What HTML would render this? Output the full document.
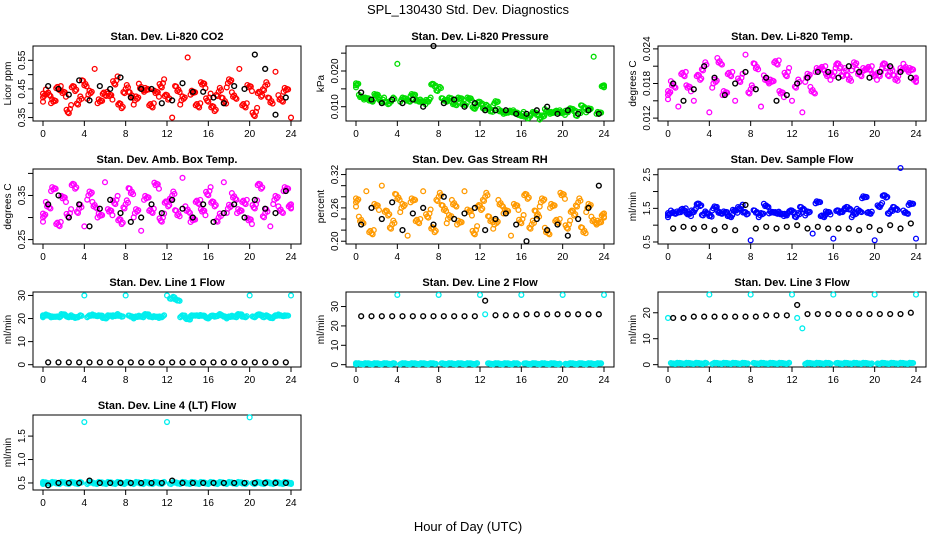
<!DOCTYPE html>
<html><head><meta charset="utf-8"><style>
body{margin:0;background:#fff}
svg{display:block;font-family:"Liberation Sans",sans-serif}
</style></head><body>
<svg id="c" width="936" height="540" viewBox="0 0 936 540">
<text x="468" y="14" text-anchor="middle" font-size="13">SPL_130430  Std. Dev. Diagnostics</text>
<text x="468" y="531" text-anchor="middle" font-size="13">Hour of Day (UTC)</text>
</svg>
<script>
const hoursHalf = Array.from({length:49},(_, i)=>i*0.5);
const hoursBlack = Array.from({length:24},(_, i)=>i+0.5);
const co2Red=[0.42,0.44,0.40,0.46,0.43,0.38,0.45,0.41,0.47,0.43,0.52,0.40,0.44,0.42,0.48,0.39,0.45,0.43,0.41,0.46,0.44,0.40,0.43,0.47,0.42,0.35,0.45,0.41,0.56,0.43,0.40,0.46,0.42,0.38,0.44,0.41,0.47,0.43,0.52,0.40,0.45,0.37,0.43,0.46,0.41,0.51,0.42,0.44,0.35];
const co2Black=[0.46,0.45,0.43,0.48,0.41,0.46,0.45,0.49,0.42,0.45,0.45,0.40,0.41,0.47,0.44,0.44,0.42,0.40,0.46,0.45,0.57,0.52,0.36,0.42];
const presGreen=[0.016,0.013,0.012,0.012,0.013,0.012,0.011,0.012,0.022,0.012,0.012,0.013,0.012,0.011,0.012,0.016,0.015,0.012,0.012,0.011,0.012,0.011,0.012,0.010,0.011,0.010,0.009,0.011,0.009,0.008,0.009,0.008,0.008,0.007,0.008,0.008,0.007,0.009,0.008,0.009,0.008,0.009,0.009,0.008,0.010,0.009,0.024,0.008,0.016];
const presBlack=[0.014,0.012,0.011,0.012,0.011,0.012,0.010,0.027,0.011,0.012,0.010,0.011,0.009,0.009,0.009,0.008,0.008,0.009,0.010,0.008,0.009,0.008,0.009,0.008];
const tempMag=[0.016,0.018,0.014,0.020,0.017,0.015,0.019,0.021,0.013,0.018,0.022,0.016,0.020,0.015,0.019,0.023,0.017,0.021,0.014,0.019,0.018,0.022,0.016,0.020,0.015,0.018,0.013,0.019,0.017,0.020,0.021,0.019,0.020,0.021,0.020,0.019,0.021,0.020,0.020,0.021,0.019,0.020,0.021,0.020,0.019,0.020,0.021,0.020,0.019];
const tempBlack=[0.018,0.015,0.017,0.021,0.019,0.016,0.018,0.020,0.017,0.019,0.015,0.016,0.018,0.019,0.020,0.020,0.019,0.021,0.020,0.019,0.020,0.021,0.020,0.019];
const boxMag=[0.30,0.33,0.36,0.29,0.34,0.31,0.37,0.32,0.28,0.35,0.33,0.30,0.38,0.31,0.34,0.29,0.33,0.36,0.31,0.27,0.34,0.32,0.37,0.30,0.33,0.35,0.31,0.39,0.32,0.29,0.34,0.31,0.36,0.33,0.30,0.38,0.32,0.35,0.31,0.34,0.29,0.33,0.37,0.31,0.28,0.34,0.32,0.36,0.33];
const boxBlack=[0.33,0.35,0.30,0.33,0.28,0.32,0.34,0.31,0.29,0.30,0.33,0.31,0.34,0.32,0.30,0.33,0.29,0.31,0.33,0.30,0.34,0.32,0.31,0.36];
const rhOrange=[0.27,0.24,0.29,0.22,0.26,0.30,0.25,0.23,0.28,0.26,0.21,0.27,0.24,0.29,0.25,0.22,0.28,0.26,0.24,0.27,0.23,0.29,0.25,0.22,0.26,0.28,0.24,0.23,0.27,0.25,0.21,0.26,0.24,0.28,0.23,0.25,0.27,0.22,0.26,0.24,0.28,0.23,0.25,0.27,0.22,0.26,0.24,0.23,0.25];
const rhBlack=[0.23,0.26,0.24,0.27,0.22,0.25,0.26,0.23,0.28,0.24,0.25,0.26,0.22,0.24,0.25,0.23,0.20,0.24,0.22,0.23,0.21,0.24,0.26,0.30];
const flowBlue=[1.3,1.4,1.35,1.5,1.3,1.45,1.6,1.35,1.3,1.5,1.4,1.35,1.3,1.4,1.55,1.35,0.55,1.4,1.3,1.6,1.35,1.4,1.3,1.35,1.4,1.3,1.5,1.35,0.75,1.65,1.3,1.35,0.6,1.4,1.45,1.5,1.3,1.45,1.8,1.4,0.55,1.6,1.85,1.4,1.5,2.7,1.4,1.6,0.6];
const flowBlack=[0.9,0.95,0.9,0.95,0.85,0.95,0.85,1.6,0.9,0.95,0.9,0.95,1.0,0.9,0.95,0.9,0.9,0.9,0.85,0.95,0.85,1.0,0.9,1.05];
const l1Cyan=[21,21.5,20.5,21,21.5,21,20.5,21,30,21,21.5,21,20.5,21,21.5,21,30,21,20.5,21,21.5,21,20.5,21,30,29,28,21,20,21,21.5,21,20.5,21,21.5,21,20.5,21,21.5,21,30,21,21.5,21,20.5,21,21.5,21,30];
const l1Black=[1,1,1,1,1,1,1,1,1,1,1,1,1,1,1,1,1,1,1,1,1,1,1,1];
const l2Cyan=[0.5,0.5,0.5,0.5,0.5,0.5,0.5,0.5,36,0.5,0.5,0.5,0.5,0.5,0.5,0.5,36,0.5,0.5,0.5,0.5,0.5,0.5,0.5,36,26,0.5,0.5,0.5,0.5,0.5,0.5,36,0.5,0.5,0.5,0.5,0.5,0.5,0.5,36,0.5,0.5,0.5,0.5,0.5,0.5,0.5,36];
const l2Black=[25,25,25,25,25,25,25,25,25,25,25,25,33,25.5,25.5,25.5,26,26,26,26,26,26,26,26];
const l3Cyan=[18,0.5,0.5,0.5,0.5,0.5,0.5,0.5,27,0.5,0.5,0.5,0.5,0.5,0.5,0.5,27,0.5,0.5,0.5,0.5,0.5,0.5,0.5,27,18,14,0.5,0.5,0.5,0.5,0.5,27,0.5,0.5,0.5,0.5,0.5,0.5,0.5,27,0.5,0.5,0.5,0.5,0.5,0.5,0.5,27];
const l3Black=[18,18,18.5,18.5,18.5,18.5,18.5,18.5,18.5,19,19,19,23,19.5,19.5,19.5,19.5,19.5,19.5,19.5,19.5,19.5,19.5,20];
const l4Cyan=[0.5,0.5,0.5,0.5,0.5,0.5,0.5,0.5,1.8,0.5,0.5,0.5,0.5,0.5,0.5,0.5,0.5,0.5,0.5,0.5,0.5,0.5,0.5,0.5,1.8,0.5,0.5,0.5,0.5,0.5,0.5,0.5,0.5,0.5,0.5,0.5,0.5,0.5,0.5,0.5,1.9,0.5,0.5,0.5,0.5,0.5,0.5,0.5,0.5];
const l4Black=[0.45,0.5,0.5,0.5,0.55,0.5,0.5,0.5,0.5,0.5,0.5,0.5,0.55,0.5,0.5,0.5,0.5,0.5,0.5,0.5,0.5,0.5,0.5,0.5];
const xTicks=[0,4,8,12,16,20,24];

const panels=[
 {t:"Stan. Dev. Li-820 CO2",yl:"Licor ppm",c:0,r:0,d:[0.338,0.60],yt:[0.35,0.40,0.45,0.50,0.55],lab:["0.35","","0.45","","0.55"],col:"#ff0000",s:co2Red,b:co2Black,sp:1.0},
 {t:"Stan. Dev. Li-820 Pressure",yl:"kPa",c:1,r:0,d:[0.006,0.027],yt:[0.010,0.015,0.020,0.025],lab:["0.010","","0.020",""],col:"#00dd00",s:presGreen,b:presBlack,sp:0.5},
 {t:"Stan. Dev. Li-820 Temp.",yl:"degrees C",c:2,r:0,d:[0.0115,0.0245],yt:[0.012,0.015,0.018,0.021,0.024],lab:["0.012","","0.018","","0.024"],col:"#ff00ff",s:tempMag,b:tempBlack,sp:1.0},
 {t:"Stan. Dev. Amb. Box Temp.",yl:"degrees C",c:0,r:1,d:[0.24,0.41],yt:[0.25,0.30,0.35,0.40],lab:["0.25","","0.35",""],col:"#ff00ff",s:boxMag,b:boxBlack,sp:1.0},
 {t:"Stan. Dev. Gas Stream RH",yl:"percent",c:1,r:1,d:[0.195,0.33],yt:[0.20,0.22,0.24,0.26,0.28,0.30,0.32],lab:["0.20","","","0.26","","","0.32"],col:"#ff9a00",s:rhOrange,b:rhBlack,sp:1.0},
 {t:"Stan. Dev. Sample Flow",yl:"ml/min",c:2,r:1,d:[0.44,2.67],yt:[0.5,1,1.5,2,2.5],lab:["0.5","","1.5","","2.5"],col:"#0000ff",s:flowBlue,b:flowBlack,sp:0.5},
 {t:"Stan. Dev. Line 1 Flow",yl:"ml/min",c:0,r:2,d:[-1,31.5],yt:[0,10,20,30],lab:["0","10","20","30"],col:"#00eeee",s:l1Cyan,b:l1Black,sp:0.25},
 {t:"Stan. Dev. Line 2 Flow",yl:"ml/min",c:1,r:2,d:[-1.2,37.5],yt:[0,10,20,30],lab:["0","10","20","30"],col:"#00eeee",s:l2Cyan,b:l2Black,sp:0.15},
 {t:"Stan. Dev. Line 3 Flow",yl:"ml/min",c:2,r:2,d:[-0.9,28],yt:[0,10,20],lab:["0","10","20"],col:"#00eeee",s:l3Cyan,b:l3Black,sp:0.15},
 {t:"Stan. Dev. Line 4 (LT) Flow",yl:"ml/min",c:0,r:3,d:[0.35,1.95],yt:[0.5,1.0,1.5],lab:["0.5","1.0","1.5"],col:"#00eeee",s:l4Cyan,b:l4Black,sp:0.25}
];
const JX=[-0.22,-0.11,0,0.11,0.22];
const JY=[-1.6,0.9,0,-0.8,1.5,-0.3,0.6,-1.2,1.1];
const NS="http://www.w3.org/2000/svg";
const svg=document.getElementById('c');
function mk(tag,attrs,parent){const e=document.createElementNS(NS,tag);for(const k in attrs)e.setAttribute(k,attrs[k]);(parent||svg).appendChild(e);return e;}
panels.forEach((p,pi)=>{
 const ox=[0,313,625][p.c], top=46+p.r*123, h=75;
 const L=33+ox,R=301+ox,B=top+h;
 const g=mk('g',{});
 
 
 const X=v=>43+ox+(v/24)*248;
 const Y=v=>B-(v-p.d[0])/(p.d[1]-p.d[0])*h;
 const rng=p.d[1]-p.d[0];
 const sorted=[...p.s].sort((a,b)=>a-b), med=sorted[Math.floor(sorted.length/2)];
 const tt=mk('text',{x:(L+R)/2,y:top-6,'text-anchor':'middle','font-size':11,'font-weight':'bold'},g);tt.textContent=p.t;
 
 
 const box=mk('rect',{x:L,y:top,width:R-L,height:h,fill:'none',stroke:'#000','stroke-width':1},g);
 
 
 xTicks.forEach(v=>{mk('line',{x1:X(v),x2:X(v),y1:B,y2:B+5,stroke:'#000'},g);
  const t=mk('text',{x:X(v),y:B+16,'text-anchor':'middle','font-size':10},g);t.textContent=v;
  
  });
 p.yt.forEach((v,i)=>{mk('line',{x1:L,x2:L-5,y1:Y(v),y2:Y(v),stroke:'#000'},g);
  if(p.lab[i]){const t=mk('text',{x:L-8,y:Y(v),'text-anchor':'middle','font-size':10,transform:`rotate(-90 ${L-8} ${Y(v)})`},g);t.textContent=p.lab[i];
  
  }});
 const yl=mk('text',{x:L-22,y:top+h/2,'text-anchor':'middle','font-size':10,transform:`rotate(-90 ${L-22} ${top+h/2})`},g);yl.textContent=p.yl;
 
 
 p.s.forEach((v,i)=>{
  const outlier=Math.abs(v-med)>0.25*rng;
  const offs=outlier?[0]:JX;
  offs.forEach((dx,k)=>{
   const xv=Math.min(24,Math.max(0,hoursHalf[i]+dx));
   const vv=outlier?v:v+JY[(i+k*2)%JY.length]*rng*0.035*p.sp;
   const c=mk('circle',{cx:X(xv),cy:Y(vv),r:2.4,fill:'none',stroke:p.col,'stroke-width':1.3},g);
   
   });});
 p.b.forEach((v,i)=>{const c=mk('circle',{cx:X(hoursBlack[i]),cy:Y(v),r:2.4,fill:'none',stroke:'#000','stroke-width':1.4},g);
  
  });
});
</script>
</body></html>
